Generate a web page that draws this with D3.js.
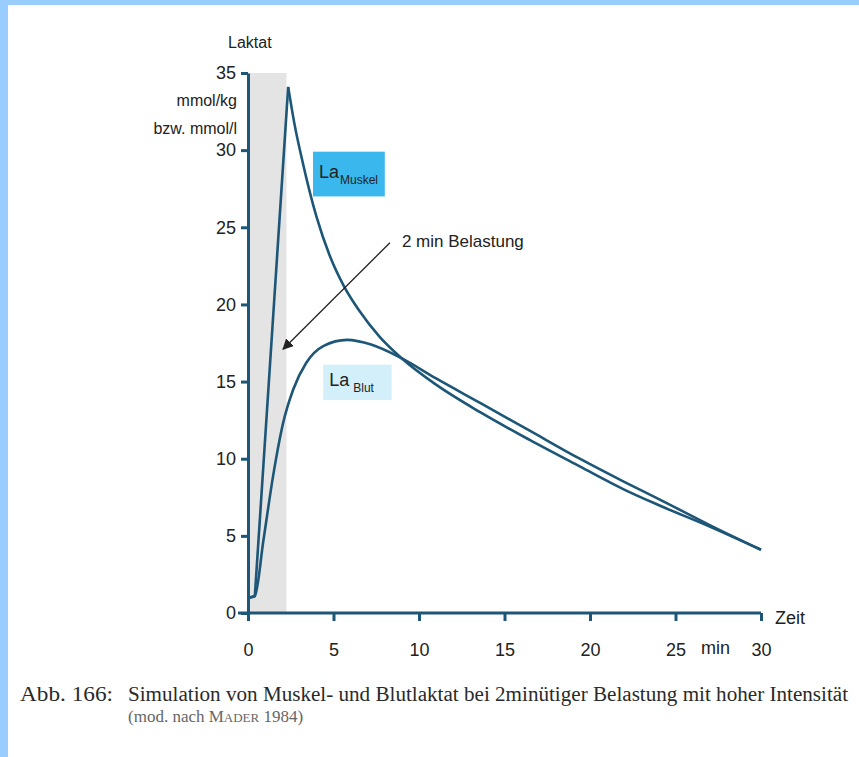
<!DOCTYPE html>
<html>
<head>
<meta charset="utf-8">
<script src="https://cdn.jsdelivr.net/npm/d3@7"></script>
<style>
  body {margin:0; background:#fff;}
  .lab {font-family:"Liberation Sans Narrow","Arial Narrow","Liberation Sans",Arial,sans-serif; fill:#222;}
  .cap {font-family:"Liberation Serif","DejaVu Serif",serif; fill:#2a2a2a;}
</style>
</head>
<body>
<svg width="859" height="757"></svg>
<script>
// time in min, lactate in mmol
var muskelRise = [[0.1, 1.0], [0.4, 1.1], [2.35, 34.1]];
var muskelFall = [[2.35, 34.1], [2.7, 31.8], [3.2, 29.2], [4.0, 25.7], [4.8, 23.1], [5.6, 21.2],
                  [6.5, 19.6], [7.7, 17.9], [9.0, 16.5], [11, 14.8], [13.6, 13.0], [16.5, 11.2],
                  [19.4, 9.5], [22, 8.0], [24, 7.0], [27, 5.6], [30, 4.1]];
var blut = [[0.1, 1.0], [0.4, 1.1], [0.9, 4.7], [1.5, 9.1], [2.05, 12.3], [2.65, 14.5], [3.4, 16.2],
            [4.4, 17.3], [5.8, 17.7], [7.2, 17.4], [9.0, 16.5], [11, 15.2], [13.6, 13.6], [16.5, 11.8],
            [19.4, 10.0], [22, 8.5], [24, 7.4], [27, 5.7], [30, 4.1]];
var belastung = [0, 2.25];
var xTicks = [0, 5, 10, 15, 20, 25, 30];
var yTicks = [0, 5, 10, 15, 20, 25, 30, 35];

var svg = d3.select("svg");
var blue = "#1d5677";

// scan frame
svg.append("rect").attr("x", 0).attr("y", 0).attr("width", 859).attr("height", 5).attr("fill", "#99ccff");
svg.append("rect").attr("x", 0).attr("y", 0).attr("width", 8).attr("height", 757).attr("fill", "#99ccff");

var x = d3.scaleLinear().domain([0, 30]).range([248, 761]);
var y = d3.scaleLinear().domain([0, 35]).range([613, 73]);

// shaded load period
svg.append("rect")
  .attr("x", x(belastung[0])).attr("y", y(35))
  .attr("width", x(belastung[1]) - x(belastung[0])).attr("height", y(0) - y(35))
  .attr("fill", "#e4e4e4");

// axes
var yAxis = svg.append("g").attr("transform", "translate(" + x(0) + ",0)")
  .call(d3.axisLeft(y).tickValues(yTicks).tickSize(7).tickPadding(5).tickSizeOuter(0));
var xAxis = svg.append("g").attr("transform", "translate(0," + y(0) + ")")
  .call(d3.axisBottom(x).tickValues(xTicks).tickSize(8).tickPadding(22).tickSizeOuter(0));
[yAxis, xAxis].forEach(function(a) {
  a.selectAll("path, line").attr("stroke", blue).attr("stroke-width", 3);
  a.selectAll("text").attr("class", "lab").style("font-size", "18px").attr("fill", "#222");
});
xAxis.select("path").attr("d", "M" + (x(0) - 10) + ",0H" + x(30));

// curves
var lin = d3.line().x(function(d) { return x(d[0]); }).y(function(d) { return y(d[1]); });
var smooth = d3.line().x(function(d) { return x(d[0]); }).y(function(d) { return y(d[1]); }).curve(d3.curveMonotoneX);
svg.append("path").attr("d", lin(muskelRise)).attr("fill", "none").attr("stroke", blue).attr("stroke-width", 2.6).attr("stroke-linejoin", "round");
svg.append("path").attr("d", smooth(muskelFall)).attr("fill", "none").attr("stroke", blue).attr("stroke-width", 2.6);
svg.append("path").attr("d", smooth(blut)).attr("fill", "none").attr("stroke", blue).attr("stroke-width", 2.6);

// axis titles
svg.append("text").attr("class", "lab").attr("x", 228).attr("y", 48).style("font-size", "16px").text("Laktat");
svg.append("text").attr("class", "lab").attr("x", 237).attr("y", 106).attr("text-anchor", "end").style("font-size", "16px").text("mmol/kg");
svg.append("text").attr("class", "lab").attr("x", 237).attr("y", 134).attr("text-anchor", "end").style("font-size", "16px").text("bzw. mmol/l");
svg.append("text").attr("class", "lab").attr("x", 775).attr("y", 624).style("font-size", "18px").text("Zeit");
svg.append("text").attr("class", "lab").attr("x", 701).attr("y", 654).style("font-size", "18px").text("min");

// series labels
function tag(x0, x1, y0, y1, fill, sub) {
  svg.append("rect").attr("x", x(x0)).attr("y", y(y0))
    .attr("width", x(x1) - x(x0)).attr("height", y(y1) - y(y0)).attr("fill", fill);
  var t = svg.append("text").attr("class", "lab").attr("x", x(x0) + 6).attr("y", (y(y0) + y(y1)) / 2 + 4)
    .style("font-size", "18px");
  t.append("tspan").text("La");
  t.append("tspan").attr("dy", 6).attr("dx", sub === "Blut" ? 4 : 1).style("font-size", "12px").text(sub);
}
tag(3.8, 8.0, 29.9, 27.0, "#3ab7ec", "Muskel");
tag(4.4, 8.4, 16.1, 13.8, "#d3eff9", "Blut");

// arrow
svg.append("defs").append("marker").attr("id", "head")
  .attr("viewBox", "0 0 10 10").attr("refX", 9).attr("refY", 5)
  .attr("markerWidth", 11).attr("markerHeight", 11).attr("markerUnits", "userSpaceOnUse").attr("orient", "auto")
  .append("path").attr("d", "M0,0L10,5L0,10Z").attr("fill", "#222");
svg.append("line").attr("x1", x(8.3)).attr("y1", y(24.0)).attr("x2", x(2.05)).attr("y2", y(17.1))
  .attr("stroke", "#222").attr("stroke-width", 1.3).attr("marker-end", "url(#head)");
svg.append("text").attr("class", "lab").attr("x", x(9.0)).attr("y", y(23.7)).style("font-size", "17px").text("2 min Belastung");

// caption
svg.append("text").attr("class", "cap").attr("x", 20).attr("y", 701).style("font-size", "20px")
  .attr("textLength", 93).attr("lengthAdjust", "spacingAndGlyphs").text("Abb. 166:");
svg.append("text").attr("class", "cap").attr("x", 128).attr("y", 701).style("font-size", "20px")
  .attr("textLength", 720).attr("lengthAdjust", "spacingAndGlyphs")
  .text("Simulation von Muskel- und Blutlaktat bei 2minütiger Belastung mit hoher Intensität");
var c2 = svg.append("text").attr("class", "cap").attr("x", 128).attr("y", 722).style("font-size", "17px")
  .style("fill", "#666");
c2.append("tspan").text("(mod. nach M");
c2.append("tspan").style("font-size", "13px").text("ADER");
c2.append("tspan").text(" 1984)");
</script>
</body>
</html>
